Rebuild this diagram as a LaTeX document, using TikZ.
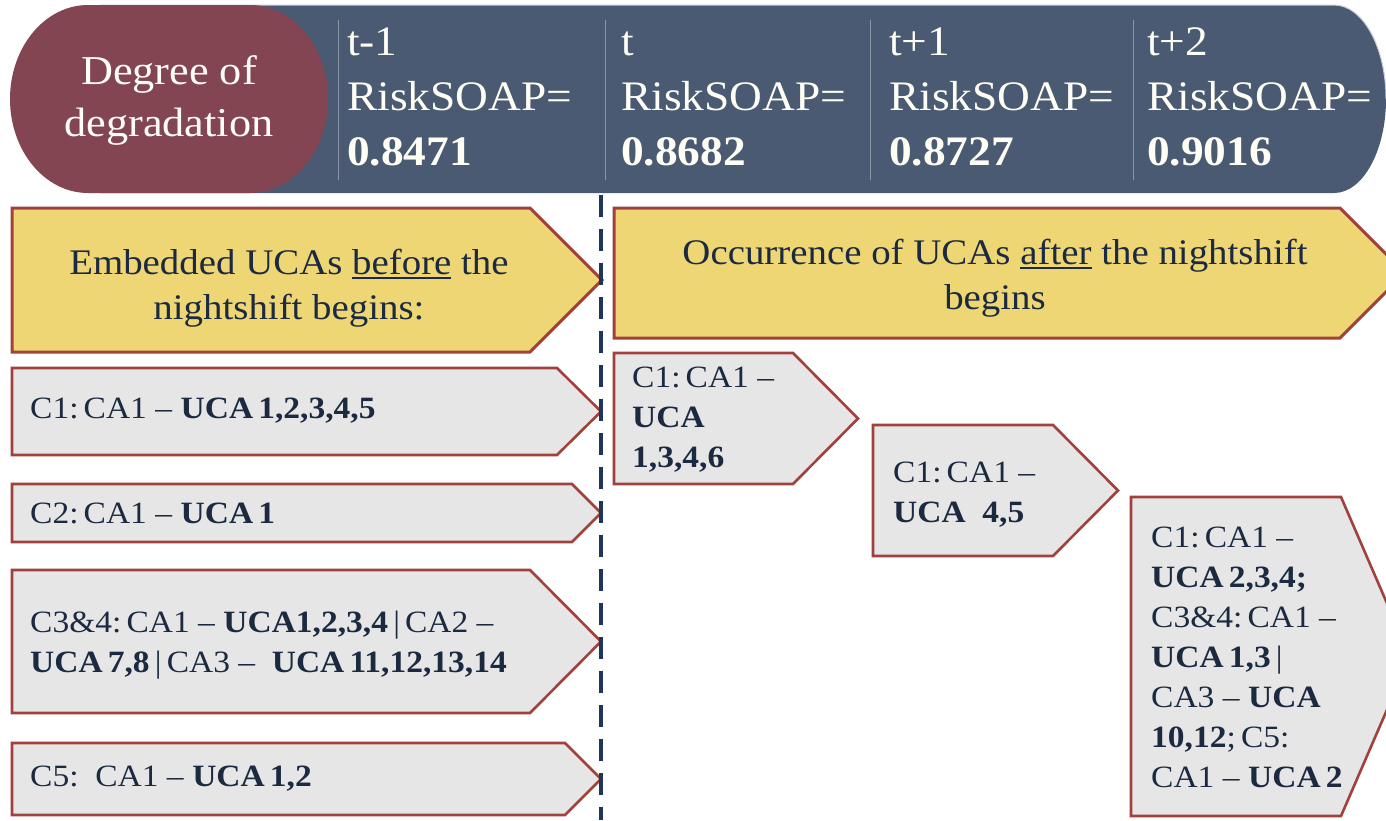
\documentclass[tikz,border=0pt]{standalone}
\usepackage{fontspec}
\setmainfont{Liberation Serif}[FakeStretch=1.08]
\definecolor{slate}{HTML}{4A5A72}
\definecolor{maroon}{HTML}{844553}
\definecolor{yel}{HTML}{EED674}
\definecolor{gry}{HTML}{E6E6E6}
\definecolor{bord}{HTML}{A0413C}
\definecolor{navy}{HTML}{1B2A40}
\definecolor{dashc}{HTML}{1F3559}
\definecolor{divc}{HTML}{8A95A6}
\newcommand\pentbox[6]{\draw[#1] (#2,#3) -- (#4,#3) -- (#5,{(#3+#6)/2}) -- (#4,#6) -- (#2,#6) -- cycle;}
\newcommand\myul[1]{\setbox0\hbox{#1}\rlap{\rule[-4.5pt]{\wd0}{1.8pt}}\box0\relax}
\tikzset{
  ybox/.style={fill=yel, draw=bord, line width=3pt, line join=miter},
  gbox/.style={fill=gry, draw=bord, line width=2.6pt, line join=miter},
  gtxt/.style={font=\fontsize{31}{40}\selectfont, text=navy, align=left, inner sep=0pt, anchor=west},
  ytxt/.style={font=\fontsize{36}{45}\selectfont, text=navy, align=center, inner sep=0pt},
  btxt/.style={font=\fontsize{42}{55}\selectfont, text=white!96!yellow, inner sep=0pt, anchor=base west},
  divline/.style={draw=divc, line width=1pt},
  dashline/.style={draw=dashc, line width=4pt, dash pattern=on 22pt off 12pt}
}
\begin{document}
\begin{tikzpicture}[x=1pt,y=-1pt]
\clip (0,0) rectangle (1386,820);
\fill[white] (0,0) rectangle (1386,820);
% banner
\fill[slate] (100,5) -- (1334,5) arc[start angle=270, end angle=450, x radius=52, y radius=94] -- (100,193) -- cycle;
\draw[white!70!slate, line width=1pt] (100,5) -- (1334,5) arc[start angle=270, end angle=360, x radius=52, y radius=94];
% maroon
\fill[maroon] (250,5) -- (88,5) arc[start angle=270, end angle=90, x radius=78, y radius=94] -- (250,193) arc[start angle=90, end angle=-90, x radius=78, y radius=94] -- cycle;
\node[font=\fontsize{41}{52}\selectfont, text=white!96!yellow, align=center, inner sep=0pt] (deg) at (169,100) {Degree of\\degradation};
% dividers
\draw[divline] (338,20) -- (338,180);
\draw[divline] (605,20) -- (605,180);
\draw[divline] (870,20) -- (870,180);
\draw[divline] (1133,20) -- (1133,180);
% banner texts
\node[btxt] (ta) at (347,55) {t-1};
\node[btxt] (ra) at (347,110) {RiskSOAP=};
\node[btxt] (va) at (347,165) {\textbf{0.8471}};
\node[btxt] (tb) at (621,55) {t};
\node[btxt] (rb) at (621,110) {RiskSOAP=};
\node[btxt] (vb) at (621,165) {\textbf{0.8682}};
\node[btxt] (tc) at (889,55) {t+1};
\node[btxt] (rc) at (889,110) {RiskSOAP=};
\node[btxt] (vc) at (889,165) {\textbf{0.8727}};
\node[btxt] (td) at (1147,55) {t+2};
\node[btxt] (rd) at (1147,110) {RiskSOAP=};
\node[btxt] (vd) at (1147,165) {\textbf{0.9016}};
% yellow headers
\pentbox{ybox}{12}{208}{530}{602}{352}
\pentbox{ybox}{614}{208}{1340}{1405}{338}
\node[ytxt] (yl) at (289,288) {Embedded UCAs \myul{before} the\\nightshift begins:};
\node[ytxt] (yr) at (995,278) {Occurrence of UCAs \myul{after} the nightshift\\begins};
% left grey boxes
\pentbox{gbox}{12}{368}{557}{601}{455}
\pentbox{gbox}{12}{484}{572}{601}{542}
\pentbox{gbox}{12}{570}{530}{601}{713}
\pentbox{gbox}{12}{743}{565}{601}{815}
\node[gtxt] (l1) at (30,411) {C1:\,CA1 -- \textbf{UCA\,1,2,3,4,5}};
\node[gtxt] (l2) at (30,513) {C2:\,CA1 -- \textbf{UCA\,1}};
\node[gtxt] (l3) at (30,645) {C3\&4:\,CA1 -- \textbf{UCA1,2,3,4}\,|\,CA2 --\\\textbf{UCA\,7,8}\,|\,CA3 --\ \ \textbf{UCA\,11,12,13,14}};
\node[gtxt] (l4) at (30,779) {C5:\ \ CA1 -- \textbf{UCA\,1,2}};
% right grey boxes
\pentbox{gbox}{614}{353}{793}{858}{484}
\pentbox{gbox}{873}{425}{1053}{1118}{556}
\pentbox{gbox}{1131}{497}{1341}{1410}{816}
\node[gtxt] (r1) at (632,420) {C1:\,CA1 --\\\textbf{UCA}\\\textbf{1,3,4,6}};
\node[gtxt] (r2) at (893,495) {C1:\,CA1 --\\\textbf{UCA\ \ 4,5}};
\node[gtxt] (r3) at (1151,657) {C1:\,CA1 --\\\textbf{UCA\,2,3,4;}\\C3\&4:\,CA1 --\\\textbf{UCA\,1,3}\,|\\CA3 -- \textbf{UCA}\\\textbf{10,12};\,C5:\\CA1 -- \textbf{UCA\,2}};
% dashed divider
\coordinate (dtop) at (601,195);
\coordinate (dbot) at (601,820);
\draw[dashline] (dtop) -- (dbot);
\end{tikzpicture}
\end{document}
